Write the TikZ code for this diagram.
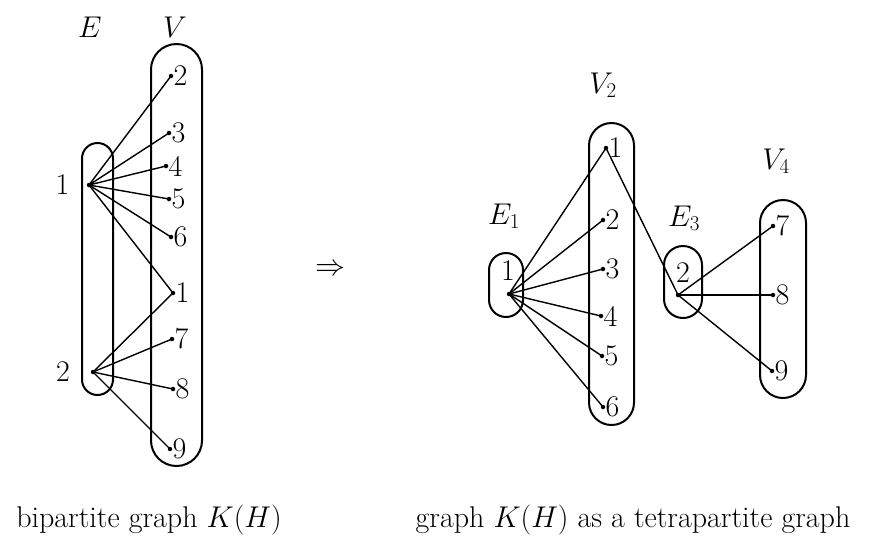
\documentclass[tikz,border=0pt]{standalone}
\usepackage{fix-cm}
\begin{document}
\begin{tikzpicture}[x=1pt,y=-1pt,
  every node/.style={font=\fontsize{30}{36}\selectfont},
  pt/.style={circle,fill,inner sep=0pt,minimum size=4.5pt},
  grp/.style={draw,line width=2pt,inner sep=0pt},
  lab/.style={inner sep=0pt},
  vl/.style={anchor=west,inner sep=0pt,xshift=2.5pt},
  edge/.style={line width=1.4pt,shorten <=-1.5pt,shorten >=-1.5pt}]
\useasboundingbox (0,0) rectangle (890,536);
% ---------- left: bipartite graph ----------
\node[grp,minimum width=31pt,minimum height=252pt,rounded corners=15.5pt] (Ebox) at (97.5,269) {};
\node[grp,minimum width=51pt,minimum height=422pt,rounded corners=25.5pt] (Vbox) at (176.5,255) {};
\node[lab] (Elab) at (90,27) {$E$};
\node[lab] (Vlab) at (175,27) {$V$};
\node[pt] (e1) at (89,185) {};
\node[pt] (e2) at (93,372) {};
\node[lab] (e1l) at (62.5,185) {1};
\node[lab] (e2l) at (63,372) {2};
\node[pt] (v2) at (171,76) {};  \node[vl] (v2l) at (v2) {2};
\node[pt] (v3) at (169,133) {}; \node[vl] (v3l) at (v3) {3};
\node[pt] (v4) at (166,166) {}; \node[vl] (v4l) at (v4) {4};
\node[pt] (v5) at (169,199) {}; \node[vl] (v5l) at (v5) {5};
\node[pt] (v6) at (171,237) {}; \node[vl] (v6l) at (v6) {6};
\node[pt] (v1) at (173,293) {}; \node[vl] (v1l) at (v1) {1};
\node[pt] (v7) at (172,339) {}; \node[vl] (v7l) at (v7) {7};
\node[pt] (v8) at (173,389) {}; \node[vl] (v8l) at (v8) {8};
\node[pt] (v9) at (170,449) {}; \node[vl] (v9l) at (v9) {9};
\foreach \v in {v2,v3,v4,v5,v6,v1} \draw[edge] (e1) -- (\v);
\foreach \v in {v1,v7,v8,v9} \draw[edge] (e2) -- (\v);
% ---------- arrow ----------
\node[lab] (impl) at (330,270) {$\Rightarrow$};
% ---------- right: tetrapartite graph ----------
\node[grp,minimum width=45pt,minimum height=302pt,rounded corners=22.5pt] (V2box) at (611.5,274) {};
\node[grp,minimum width=34pt,minimum height=64pt,rounded corners=17pt] (E1box) at (506,285) {};
\node[grp,minimum width=38pt,minimum height=72pt,rounded corners=19pt] (E3box) at (683,282) {};
\node[grp,minimum width=46pt,minimum height=198pt,rounded corners=23pt] (V4box) at (783,299) {};
\node[lab] (V2lab) at (603,85) {$V_2$};
\node[lab] (E1lab) at (504,216) {$E_1$};
\node[lab] (E3lab) at (684,218) {$E_3$};
\node[lab] (V4lab) at (776,161) {$V_4$};
\node[pt] (f1) at (509,294) {}; \node[lab] (f1l) at (508,271) {1};
\node[pt] (f3) at (678,295) {}; \node[lab] (f3l) at (683,273) {2};
\node[pt] (w1) at (606,148) {}; \node[vl] (w1l) at (w1) {1};
\node[pt] (w2) at (603,220) {}; \node[vl] (w2l) at (w2) {2};
\node[pt] (w3) at (603,269) {}; \node[vl] (w3l) at (w3) {3};
\node[pt] (w4) at (601,316) {}; \node[vl] (w4l) at (w4) {4};
\node[pt] (w5) at (602,356) {}; \node[vl] (w5l) at (w5) {5};
\node[pt] (w6) at (603,407) {}; \node[vl] (w6l) at (w6) {6};
\node[pt] (w7) at (773,226) {}; \node[vl] (w7l) at (w7) {7};
\node[pt] (w8) at (773,295) {}; \node[vl] (w8l) at (w8) {8};
\node[pt] (w9) at (772,371) {}; \node[vl] (w9l) at (w9) {9};
\foreach \v in {w1,w2,w3,w4,w5,w6} \draw[edge] (f1) -- (\v);
\foreach \v in {w1,w7,w8,w9} \draw[edge] (f3) -- (\v);
% ---------- captions ----------
\node[lab] (cap1) at (149,520) {bipartite graph $K(H)$};
\node[lab] (cap2) at (633,520) {graph $K(H)$ as a tetrapartite graph};
\end{tikzpicture}
\end{document}
